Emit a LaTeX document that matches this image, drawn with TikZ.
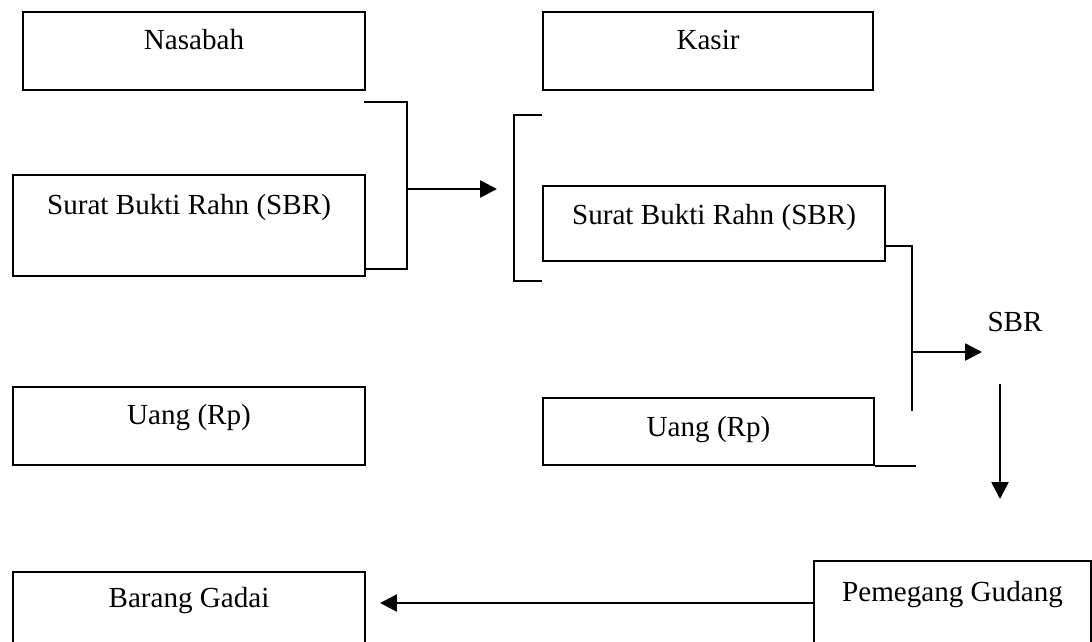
\documentclass[tikz,border=0pt]{standalone}
\usepackage{fontspec}
\setmainfont{Liberation Serif}
\usetikzlibrary{arrows.meta}
\tikzset{
  blok/.style={draw, line width=1.4pt, anchor=north west, inner ysep=0pt, align=center},
  garis/.style={line width=1.4pt},
  panah/.style={line width=1.8pt, -{Triangle[length=0.42cm,width=0.42cm]}}
}
\begin{document}
\begin{tikzpicture}[x=0.025cm, y=-0.025cm, font=\fontsize{20.7}{24}\selectfont]
    \clip (0,0) rectangle (1092,641);
    \node[blok, minimum width=8.55cm, text height=0.925cm, text depth=1.025cm] (nasabah) at (22,11) {Nasabah};
    \node[blok, minimum width=8.8cm, text height=0.975cm, text depth=1.55cm] (sbrA) at (12,174) {Surat Bukti Rahn (SBR)};
    \node[blok, minimum width=8.8cm, text height=0.925cm, text depth=1.025cm] (uangA) at (12,386) {Uang (Rp)};
    \node[blok, minimum width=8.8cm, text height=0.875cm, text depth=1.2cm] (barang) at (12,571) {Barang Gadai};
    \node[blok, minimum width=8.25cm, text height=0.925cm, text depth=1.025cm] (kasir) at (542,11) {Kasir};
    \node[blok, minimum width=8.55cm, text height=0.95cm, text depth=0.925cm] (sbrB) at (542,185) {Surat Bukti Rahn (SBR)};
    \node[blok, minimum width=8.275cm, text height=0.95cm, text depth=0.725cm] (uangB) at (542,397) {Uang (Rp)};
    \node[blok, minimum width=6.925cm, text height=1cm, text depth=1.5cm] (gudang) at (813,560) {Pemegang Gudang};
    \node (sbr) at (1015,322) {SBR};
    % kurung kiri
    \coordinate (atasA) at (364,102);
    \coordinate (pusatA) at (407,189);
    \coordinate (tujuanA) at (497,189);
    \draw[garis] (atasA) -| (pusatA) |- (sbrA.east |- 0,269);
    \draw[panah] (pusatA) -- (tujuanA);
    % kurung kanan
    \coordinate (pusatB) at (514,198);
    \draw[garis] (sbrB.west |- 0,115) -| (pusatB) |- (sbrB.west |- 0,281);
    % cabang ke SBR
    \coordinate (cabangC) at (912,352);
    \coordinate (ujungC) at (912,411);
    \coordinate (tujuanC) at (982,352);
    \draw[garis] (sbrB.east |- 0,246) -| (ujungC);
    \draw[panah] (cabangC) -- (tujuanC);
    \draw[garis] (uangB.south east) -- ++(41,0);
    \coordinate (turunA) at (1000,384);
    \coordinate (turunB) at (1000,499);
    \draw[panah] (turunA) -- (turunB);
    \coordinate (kiri) at (380,603);
    \draw[panah] (gudang.west |- kiri) -- (kiri);
\end{tikzpicture}
\end{document}
